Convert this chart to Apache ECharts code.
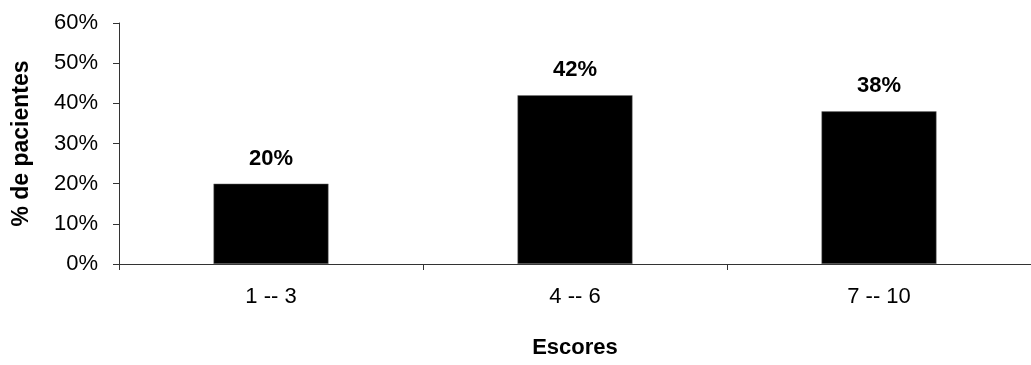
<!DOCTYPE html>
<html>
<head>
<meta charset="utf-8">
<script src="https://cdn.jsdelivr.net/npm/echarts@6/dist/echarts.min.js"></script>
<style>
  html, body { margin: 0; padding: 0; background: #fff; }
  #chart { width: 1031px; height: 365px; }
</style>
</head>
<body>
<div id="chart"></div>
<script>
// Score ranges and share of patients in each (%)
const categories = ['1 -- 3', '4 -- 6', '7 -- 10'];
const percentPatients = [20, 42, 38];
const yTicks = [0, 10, 20, 30, 40, 50, 60];

const font = '"Liberation Sans", Arial, sans-serif';
const chart = echarts.init(document.getElementById('chart'), null, { renderer: 'canvas' });

chart.setOption({
  animation: false,
  backgroundColor: '#ffffff',
  grid: { left: 119, top: 23, width: 918, height: 241, containLabel: false },
  xAxis: {
    type: 'category',
    data: categories,
    name: 'Escores',
    nameLocation: 'middle',
    nameGap: 73,
    nameTextStyle: { fontFamily: font, fontSize: 22, fontWeight: 'bold', color: '#000' },
    axisLine: { lineStyle: { color: '#333', width: 1 } },
    axisTick: { show: true, length: 6, alignWithLabel: false, lineStyle: { color: '#333' } },
    axisLabel: { fontFamily: font, fontSize: 22, color: '#000', margin: 22 },
    splitLine: { show: false }
  },
  yAxis: {
    type: 'value',
    min: yTicks[0],
    max: yTicks[yTicks.length - 1],
    interval: 10,
    name: '% de pacientes',
    nameLocation: 'middle',
    nameGap: 86,
    nameRotate: 90,
    nameTextStyle: { fontFamily: font, fontSize: 23, fontWeight: 'bold', color: '#000' },
    axisLine: { show: true, lineStyle: { color: '#333', width: 1 } },
    axisTick: { show: true, length: 6, lineStyle: { color: '#333' } },
    axisLabel: { fontFamily: font, fontSize: 22, color: '#000', margin: 21, formatter: '{value}%' },
    splitLine: { show: false }
  },
  series: [{
    type: 'bar',
    data: percentPatients,
    barWidth: 115,
    itemStyle: { color: '#000', borderColor: '#777', borderWidth: 0.5 },
    label: {
      show: true,
      position: 'top',
      distance: 14,
      formatter: '{c}%',
      fontFamily: font,
      fontSize: 22,
      fontWeight: 'bold',
      color: '#000'
    }
  }]
});
</script>
</body>
</html>
